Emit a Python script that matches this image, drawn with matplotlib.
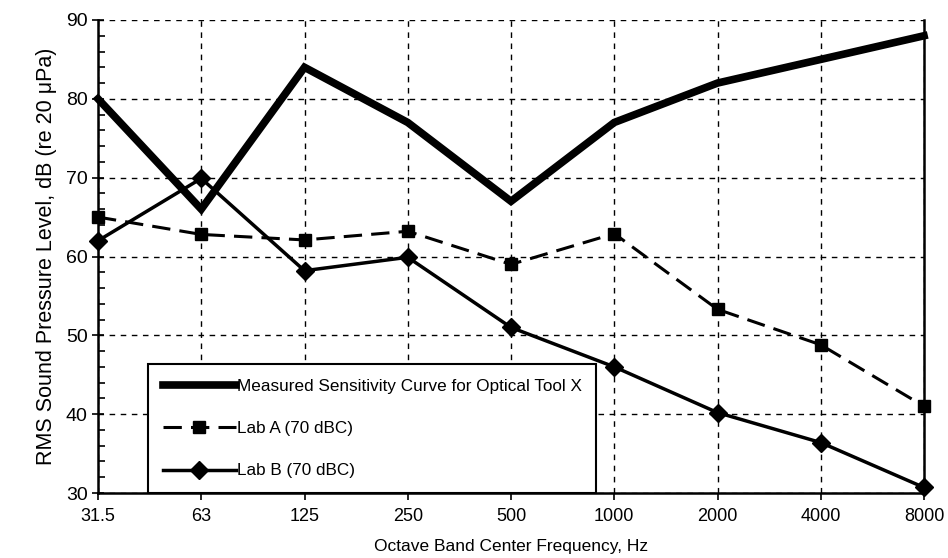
import numpy as np
import matplotlib
matplotlib.use('Agg')
import matplotlib.pyplot as plt
from matplotlib.ticker import MultipleLocator

# Octave band data
bands = ['31.5', '63', '125', '250', '500', '1000', '2000', '4000', '8000']
measured = [80, 66, 84, 77, 67, 77, 82, 85, 88]
lab_a = [65, 62.8, 62.1, 63.2, 59.0, 62.9, 53.3, 48.8, 41.0]
lab_b = [62, 69.9, 58.2, 59.9, 51.0, 46.0, 40.2, 36.4, 30.7]

plt.rcParams['font.family'] = ['Liberation Sans', 'DejaVu Sans']

fig = plt.figure(figsize=(9.48, 5.58), dpi=100)
ax = fig.add_axes([98 / 948, 1 - 493 / 558, 826 / 948, 473 / 558])

x = np.arange(len(bands))
ax.plot(x, measured, color='black', lw=5.5, solid_joinstyle='miter',
        label='Measured Sensitivity Curve for Optical Tool X', clip_on=False, zorder=3)
ax.plot(x, lab_a, color='black', lw=2.2, ls=(0, (6, 3)), marker='s', ms=9,
        label='Lab A (70 dBC)', clip_on=False, zorder=4)
ax.plot(x, lab_b, color='black', lw=2.5, marker='D', ms=9,
        label='Lab B (70 dBC)', clip_on=False, zorder=4)

ax.set_xlim(0, len(bands) - 1)
ax.set_ylim(30, 90)
ax.set_xticks(x)
ax.set_xticklabels(bands)
ax.yaxis.set_major_locator(MultipleLocator(10))
ax.yaxis.set_minor_locator(MultipleLocator(2))
ax.tick_params(axis='y', which='major', direction='inout', length=8, width=1.2, labelsize=14)
ax.tick_params(axis='y', which='minor', direction='in', length=5, width=1.2)
ax.tick_params(axis='x', which='major', direction='out', length=5, width=1.2, labelsize=13, pad=6)

ax.grid(True, color='black', ls=(0, (4, 4)), lw=1.0)
ax.spines['top'].set_visible(False)
for s in ['left', 'bottom', 'right']:
    ax.spines[s].set_linewidth(1.8)

ax.set_ylabel('RMS Sound Pressure Level, dB (re 20 μPa)', fontsize=15.5, labelpad=6)
ax.set_xlabel('Octave Band Center Frequency, Hz', fontsize=12.5, labelpad=10)

leg = ax.legend(loc='lower left', bbox_to_anchor=(148 / 948, 1 - 493 / 558),
                bbox_transform=fig.transFigure, borderaxespad=0, fontsize=12.3,
                handlelength=4.3, handletextpad=0.05, labelspacing=1.6,
                borderpad=0.85, fancybox=False, framealpha=1, edgecolor='black')
leg.get_frame().set_linewidth(1.5)
leg.set_zorder(5)

fig.savefig('out.png', dpi=100)
